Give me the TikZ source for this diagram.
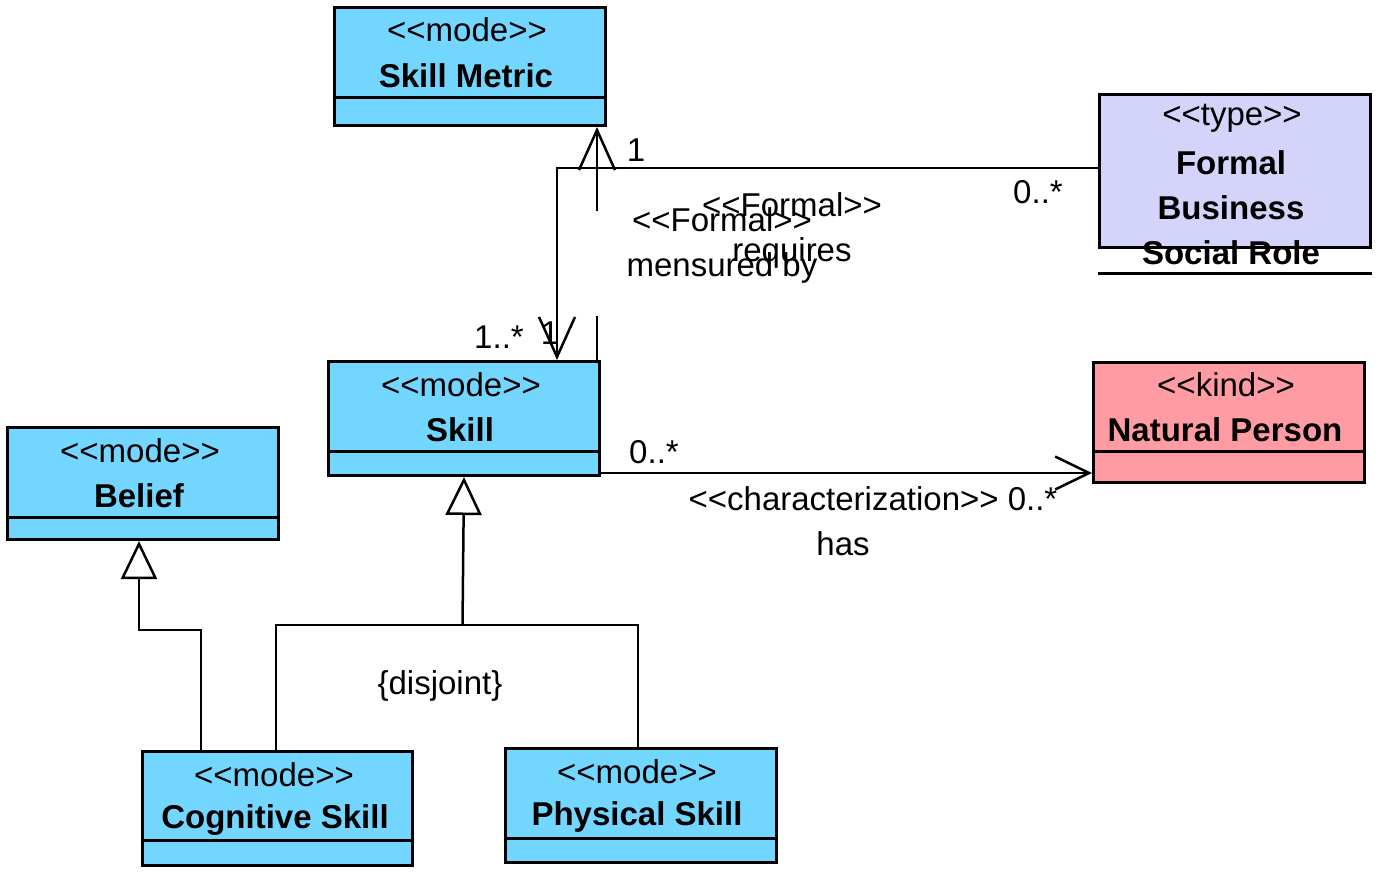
\documentclass[tikz,border=0pt]{standalone}
\usepackage{fontspec}
\setmainfont{Liberation Sans}
\usetikzlibrary{arrows.meta}
\definecolor{modec}{RGB}{114,214,255}
\definecolor{typec}{RGB}{212,212,250}
\definecolor{kindc}{RGB}{255,155,162}
\newcommand\stt[1]{<\kern0pt<#1>\kern0pt>}
\begin{document}
\begin{tikzpicture}[x=1pt,y=-1pt,
  box/.style={draw=black, line width=3pt, rectangle, inner sep=0pt, anchor=north west},
  sepline/.style={line width=3pt},
  txt/.style={inner sep=0pt, font=\fontsize{33}{45}\selectfont, align=center},
  btxt/.style={inner sep=0pt, font=\fontsize{33}{45}\selectfont\bfseries, align=center},
  conn/.style={line width=2.5pt},
  assoc/.style={conn, -{Straight Barb[length=40pt,width=36pt,line width=2.5pt]}},
  assocb/.style={conn, -{Straight Barb[length=34pt,width=33pt,line width=2.5pt]}},
  gen/.style={conn, -{Triangle[open,length=38pt,width=36pt,line width=2.5pt,fill=white]}},
]
\useasboundingbox (0,0) rectangle (1380,876);

% classes
\node[box, fill=modec, minimum width=271pt, minimum height=118pt] (sm) at (333,6) {};
\draw[sepline] (sm.west |- 0,97) -- (sm.east |- 0,97);
\node[txt] (smst) at (467,30) {\stt{mode}};
\node[btxt] (smnm) at (466,76) {Skill Metric};

\node[box, fill=typec, minimum width=271pt, minimum height=153pt] (fb) at (1098,93) {};
\draw[sepline] (fb.west |- 0,273) -- (fb.east |- 0,273);
\node[txt] (fbst) at (1232,118) {\stt{type}};
\node[btxt] (fbnm) at (1231,208) {Formal\\Business\\Social Role};

\node[box, fill=kindc, minimum width=271pt, minimum height=120pt] (np) at (1092,361) {};
\draw[sepline] (np.west |- 0,451) -- (np.east |- 0,451);
\node[txt] (npst) at (1226,385) {\stt{kind}};
\node[btxt] (npnm) at (1225,430) {Natural Person};

\node[box, fill=modec, minimum width=271pt, minimum height=114pt] (sk) at (327,360) {};
\draw[sepline] (sk.west |- 0,451) -- (sk.east |- 0,451);
\node[txt] (skst) at (461,385) {\stt{mode}};
\node[btxt] (sknm) at (460,430) {Skill};

\node[box, fill=modec, minimum width=271pt, minimum height=112pt] (bel) at (6,426) {};
\draw[sepline] (bel.west |- 0,517) -- (bel.east |- 0,517);
\node[txt] (belst) at (140,451) {\stt{mode}};
\node[btxt] (belnm) at (139,496) {Belief};

\node[box, fill=modec, minimum width=270pt, minimum height=114pt] (cs) at (141,750) {};
\draw[sepline] (cs.west |- 0,840) -- (cs.east |- 0,840);
\node[txt] (csst) at (274,775) {\stt{mode}};
\node[btxt] (csnm) at (275,820) {Cognitive Skill};

\node[box, fill=modec, minimum width=271pt, minimum height=114pt] (ps) at (504,747) {};
\draw[sepline] (ps.west |- 0,838) -- (ps.east |- 0,838);
\node[txt] (psst) at (637,772) {\stt{mode}};
\node[btxt] (psnm) at (637,817) {Physical Skill};

% associations
\draw[assoc, dash pattern=on 44pt off 105pt on 400pt] (597,0 |- sk.north) -- (597,0 |- sm.south);
\draw[assoc] (fb.west |- 0,168) -| (557,0 |- sk.north);
\draw[assocb] (sk.east |- 0,473) -- (np.west |- 0,473);

% generalizations
\coordinate (gj) at (462.5,625);
\draw[gen] (gj) -- (sk.south);
\draw[conn] (276,0 |- cs.north) |- (gj) -| (638,0 |- ps.north);
\draw[gen] (201,0 |- cs.north) -- (201,630) -| (139,0 |- bel.south);

% labels
\node[txt] (m1) at (636,150) {1};
\node[txt] (m2) at (1038,192) {0..*};
\node[txt] (l1) at (792,230.5) {\stt{Formal}\\requires};
\node[txt] (l2) at (722,245) {\stt{Formal}\\mensured by};
\node[txt] (m3) at (499,337) {1..*};
\node[txt] (m4) at (550,333) {1};
\node[txt] (m5) at (654,452) {0..*};
\node[txt] (l3) at (873,499) {\stt{characterization} 0..*};
\node[txt] (l4) at (843,544) {has};
\node[txt] (l5) at (440,686) {\{disjoint\}};
\end{tikzpicture}
\end{document}
